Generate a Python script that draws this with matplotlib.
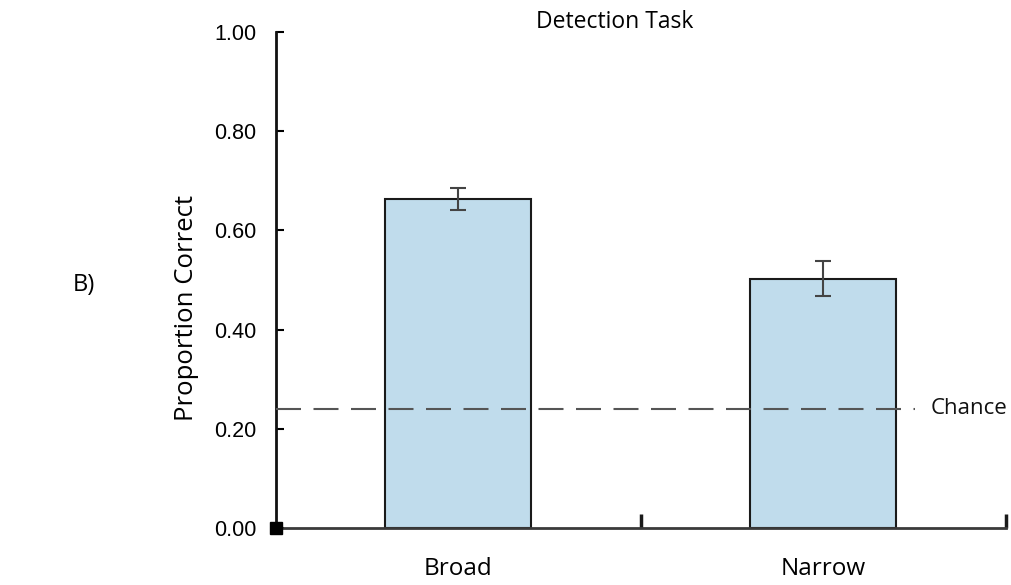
import matplotlib
matplotlib.use("Agg")
import matplotlib.pyplot as plt
import numpy as np

conditions = ["Broad", "Narrow"]
prop_correct = [0.663, 0.503]
prop_err = [0.022, 0.035]
chance_level = 0.24
chance_end = 1.25
y_ticks = [0.0, 0.2, 0.4, 0.6, 0.8, 1.0]

label_font = ["Open Sans", "DejaVu Sans"]
tick_font = ["Liberation Sans", "DejaVu Sans"]

fig = plt.figure(figsize=(10.12, 5.85), dpi=100)
ax = fig.add_axes([0.2727, 0.0974, 0.7213, 0.8479])

x = np.arange(len(conditions))
ax.bar(x, prop_correct, width=0.4, color="#c0dcec", edgecolor="#1a1a1a",
       linewidth=1.5, zorder=2)
ax.errorbar(x, prop_correct, yerr=prop_err, fmt="none", ecolor="#444444",
            elinewidth=1.5, capsize=6, capthick=1.5, zorder=3)

ax.plot([-0.5, chance_end], [chance_level, chance_level], color="#555555",
        linewidth=1.5, dashes=(12, 6), zorder=4)
ax.text(chance_end + 0.045, chance_level, "Chance", va="center", ha="left",
        fontsize=16, family=label_font, color="#111111")

ax.set_xlim(-0.5, 1.5)
ax.set_ylim(0, 1.0)
for side in ("top", "right"):
    ax.spines[side].set_visible(False)
ax.spines["left"].set_linewidth(2)
ax.spines["left"].set_color("#111111")
ax.spines["bottom"].set_linewidth(2)
ax.spines["bottom"].set_color("#3a3a3a")

ax.set_yticks(y_ticks)
ax.set_yticklabels([f"{v:.2f}" for v in y_ticks], family=tick_font, fontsize=15.5)
ax.tick_params(axis="y", direction="in", length=6, width=1.5, pad=14)

ax.set_xticks([0.5, 1.5])
ax.set_xticklabels([])
ax.tick_params(axis="x", direction="in", length=10, width=2.5, color="#1a1a1a")
for xi, name in zip(x, conditions):
    ax.text(xi, -0.058, name, ha="center", va="top", fontsize=17.5,
            family=label_font, transform=ax.get_xaxis_transform())

ax.plot([-0.5], [0], marker="s", markersize=9, color="black", clip_on=False,
        zorder=5)

ax.set_ylabel("Proportion Correct", fontsize=18.5, family=label_font)
ax.yaxis.set_label_coords(-0.105, 0.444)
fig.text(615 / 1012, 1 - 22 / 585, "Detection Task", ha="center", va="center",
         fontsize=16.5, family=label_font)
fig.text(84 / 1012, 1 - 285 / 585, "B)", ha="center", va="center",
         fontsize=17, family=label_font)

fig.savefig("out.png", dpi=100)
